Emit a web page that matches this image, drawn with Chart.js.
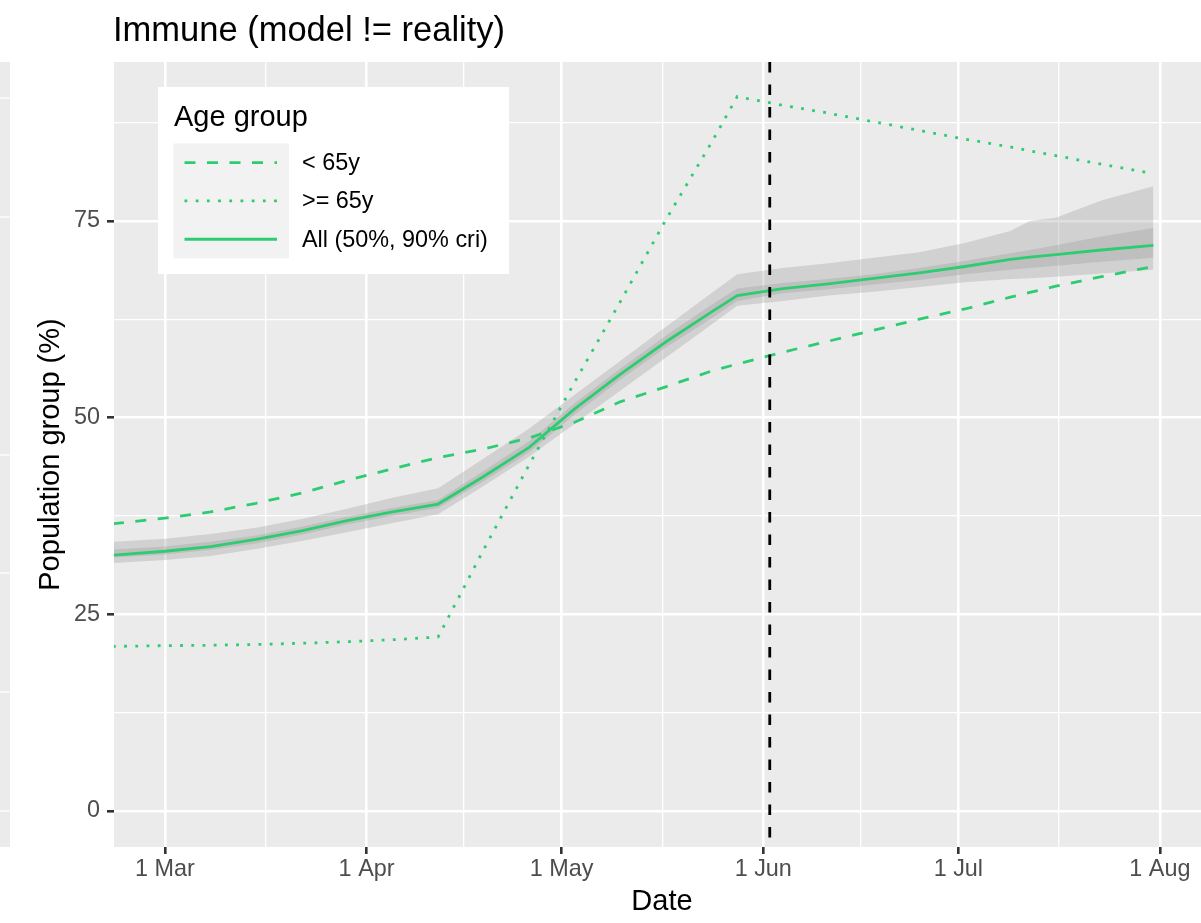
<!DOCTYPE html>
<html>
<head>
<meta charset="utf-8">
<title>Immune (model != reality)</title>
<script src="https://cdn.jsdelivr.net/npm/chart.js@4.4.1/dist/chart.umd.min.js"></script>
<style>
  html, body { margin: 0; padding: 0; background: #ffffff; overflow: hidden; }
  #wrap { width: 1201px; height: 923px; overflow: hidden; }
</style>
</head>
<body>
<div id="wrap"><canvas id="immuneChart" width="1212" height="923"></canvas></div>
<script>
// Dates of the model output (x axis)
const dates = ['2020-02-22', '2020-03-01', '2020-03-08', '2020-03-15', '2020-03-22', '2020-03-29',
  '2020-04-05', '2020-04-12', '2020-04-19', '2020-04-26', '2020-05-03', '2020-05-10', '2020-05-17',
  '2020-05-24', '2020-05-28', '2020-06-04', '2020-06-11', '2020-06-18', '2020-06-25', '2020-07-02',
  '2020-07-09', '2020-07-12', '2020-07-16', '2020-07-23', '2020-07-31'];

// Immune share per age group (%)
const under65 = [36.5, 37.2, 38.0, 39.1, 40.4, 42.0, 43.5, 44.9, 46.0, 47.4, 49.4, 52.0, 53.9,
  55.9, 56.8, 58.3, 59.7, 61.1, 62.5, 63.8, 65.3, 65.9, 66.7, 67.9, 69.2];
const over65 = [20.9, 21.0, 21.05, 21.15, 21.3, 21.5, 21.75, 22.1, 33.2, 44.0, 54.5, 64.7, 75.1,
  84.9, 90.8, 89.7, 88.7, 87.6, 86.5, 85.4, 84.4, 83.9, 83.3, 82.2, 81.0];
const allMedian = [32.5, 33.0, 33.6, 34.5, 35.6, 36.9, 38.0, 39.0, 42.5, 46.2, 51.1, 55.5, 59.6,
  63.4, 65.5, 66.4, 67.0, 67.7, 68.4, 69.2, 70.1, 70.4, 70.7, 71.3, 71.9];

// credible intervals for "All"
const all90lo = [31.5, 31.9, 32.4, 33.3, 34.3, 35.4, 36.6, 37.7, 41.3, 45.0, 49.2, 53.4, 57.6,
  61.8, 64.2, 64.8, 65.5, 66.0, 66.6, 67.2, 67.6, 67.7, 67.9, 68.3, 68.8];
const all90hi = [34.2, 34.6, 35.2, 36.0, 37.1, 38.4, 39.8, 41.0, 44.8, 48.6, 52.9, 57.2, 61.5,
  65.8, 68.2, 69.0, 69.6, 70.3, 71.0, 72.2, 73.7, 75.0, 75.4, 77.6, 79.4];
const all50lo = [32.2, 32.6, 33.2, 34.0, 35.1, 36.4, 37.5, 38.5, 41.9, 45.6, 50.4, 54.8, 58.9,
  62.6, 64.8, 65.8, 66.3, 66.9, 67.5, 68.2, 68.8, 69.0, 69.3, 69.8, 70.3];
const all50hi = [33.2, 33.6, 34.2, 35.0, 36.1, 37.4, 38.5, 39.5, 43.2, 47.0, 51.8, 56.2, 60.4,
  64.3, 66.4, 67.1, 67.6, 68.2, 69.0, 69.9, 70.9, 71.3, 71.9, 73.0, 74.1];

// Axis ticks
const tickDates = ['2020-03-01', '2020-04-01', '2020-05-01', '2020-06-01', '2020-07-01', '2020-08-01'];
const tickLabels = ['1 Mar', '1 Apr', '1 May', '1 Jun', '1 Jul', '1 Aug'];
const yTickValues = [0, 25, 50, 75];
const cutoffDate = '2020-06-02';

const GREEN = '#2ecc71';
const FONT = '"Liberation Sans", Arial, Helvetica, sans-serif';

// days since 1 Mar 2020
const origin = Date.UTC(2020, 2, 1);
function dayOf(s) {
  const p = s.split('-').map(Number);
  return (Date.UTC(p[0], p[1] - 1, p[2]) - origin) / 86400000;
}
const xs = dates.map(dayOf);
const tickDays = tickDates.map(dayOf);
const points = arr => arr.map((v, i) => ({ x: xs[i], y: v }));

const X_MIN = -7.84, X_MAX = 160.7;
const Y_MIN = -4.6, Y_MAX = 95.2;

// major ticks plus ggplot-like minor breaks half way between them
function withMinor(majors, min, max) {
  const out = majors.map(v => ({ value: v, isMinor: false }));
  const step0 = majors[1] - majors[0];
  const stepN = majors[majors.length - 1] - majors[majors.length - 2];
  const mids = [majors[0] - step0 / 2, majors[majors.length - 1] + stepN / 2];
  for (let i = 0; i < majors.length - 1; i++) mids.push((majors[i] + majors[i + 1]) / 2);
  mids.forEach(v => out.push({ value: v, isMinor: true }));
  return out.filter(t => t.value >= min && t.value <= max).sort((a, b) => a.value - b.value);
}

const band = (data, fill, color, order) => ({
  data: points(data), fill: fill, backgroundColor: color, borderColor: 'rgba(0,0,0,0)',
  borderWidth: 0, pointRadius: 0, order: order, inLegend: false
});

// background of the panel + a sliver of the neighbouring panel on the left
const panelBg = {
  id: 'panelBg',
  beforeDraw(chart) {
    const { ctx, chartArea: a } = chart;
    ctx.save();
    ctx.fillStyle = '#ebebeb';
    ctx.fillRect(a.left, a.top, a.right - a.left, a.bottom - a.top);
    ctx.fillRect(0, a.top, 10, a.bottom - a.top);
    ctx.strokeStyle = '#ffffff';
    ctx.lineWidth = 1.3;
    [98, 217, 455, 573, 692, 811].forEach(y => {
      ctx.beginPath(); ctx.moveTo(0, y); ctx.lineTo(10, y); ctx.stroke();
    });
    ctx.restore();
  }
};

// dashed vertical line at the data cutoff
const cutoffLine = {
  id: 'cutoffLine',
  afterDatasetsDraw(chart) {
    const { ctx, chartArea: a, scales } = chart;
    const x = scales.x.getPixelForValue(dayOf(cutoffDate));
    ctx.save();
    ctx.strokeStyle = '#000000';
    ctx.lineWidth = 2.8;
    ctx.setLineDash([10.5, 12]);
    ctx.beginPath();
    ctx.moveTo(x, a.top);
    ctx.lineTo(x, a.bottom);
    ctx.stroke();
    ctx.restore();
  }
};

// plot title and ggplot-style legend inside the panel
const titleAndLegend = {
  id: 'titleAndLegend',
  afterDraw(chart) {
    const { ctx } = chart;
    ctx.save();
    ctx.fillStyle = '#000000';
    ctx.textBaseline = 'alphabetic';
    ctx.font = '34.5px ' + FONT;
    ctx.fillText('Immune (model != reality)', 113, 41);

    const items = chart.data.datasets.filter(d => d.inLegend !== false);
    const boxX = 158, boxY = 87, keyX = 173.5, keyY = 143.5, keyW = 115.5, rowH = 38.3;
    ctx.fillStyle = '#ffffff';
    ctx.fillRect(boxX, boxY, 351, 187);
    ctx.fillStyle = '#000000';
    ctx.font = '29px ' + FONT;
    ctx.fillText('Age group', 174, 126);
    ctx.fillStyle = '#f2f2f2';
    ctx.fillRect(keyX, keyY, keyW, rowH * items.length);
    items.forEach((d, i) => {
      const cy = keyY + rowH * i + rowH / 2;
      ctx.strokeStyle = d.borderColor;
      ctx.lineWidth = d.borderWidth;
      ctx.setLineDash(d.borderDash || []);
      ctx.beginPath();
      ctx.moveTo(keyX + 11, cy);
      ctx.lineTo(keyX + keyW - 12, cy);
      ctx.stroke();
      ctx.setLineDash([]);
      ctx.fillStyle = '#000000';
      ctx.font = '23.4px ' + FONT;
      ctx.textBaseline = 'middle';
      ctx.fillText(d.label, 302, cy + 1);
    });
    ctx.restore();
  }
};

const config = {
  type: 'line',
  data: {
    datasets: [
      band(all90lo, false, 'rgba(0,0,0,0)', 3),
      band(all90hi, '-1', 'rgba(150,150,150,0.3)', 3),
      band(all50lo, false, 'rgba(0,0,0,0)', 2),
      band(all50hi, '-1', 'rgba(150,150,150,0.3)', 2),
      {
        label: '< 65y', data: points(under65), borderColor: GREEN, borderWidth: 2.8,
        borderDash: [11, 11.5], pointRadius: 0, fill: false, order: 1
      },
      {
        label: '>= 65y', data: points(over65), borderColor: GREEN, borderWidth: 2.8,
        borderDash: [2.8, 8.4], pointRadius: 0, fill: false, order: 1
      },
      {
        label: 'All (50%, 90% cri)', data: points(allMedian), borderColor: GREEN, borderWidth: 2.8,
        pointRadius: 0, fill: false, order: 1
      }
    ]
  },
  options: {
    responsive: false,
    animation: false,
    devicePixelRatio: 1,
    layout: { padding: { top: 62, left: 0, right: 2, bottom: 0 } },
    elements: { line: { tension: 0 } },
    plugins: { legend: { display: false }, title: { display: false }, tooltip: { enabled: false } },
    scales: {
      x: {
        type: 'linear',
        min: X_MIN,
        max: X_MAX,
        afterBuildTicks: s => { s.ticks = withMinor(tickDays, X_MIN, X_MAX); },
        afterFit: s => { s.height = 76; },
        border: { display: false },
        grid: {
          color: '#ffffff',
          lineWidth: c => (c.tick && c.tick.isMinor ? 1.3 : 2.6),
          tickColor: c => (c.tick && c.tick.isMinor ? 'rgba(0,0,0,0)' : '#333333'),
          tickLength: 7,
          tickWidth: 2.6
        },
        ticks: {
          autoSkip: false,
          maxRotation: 0,
          padding: 1.5,
          color: '#4d4d4d',
          font: { family: FONT, size: 23.4 },
          callback: (v, i, ticks) => (ticks[i].isMinor ? '' : tickLabels[tickDays.indexOf(v)])
        },
        title: {
          display: true, text: 'Date', color: '#000000',
          font: { family: FONT, size: 29 }, padding: { top: 0, bottom: 4 }
        }
      },
      y: {
        type: 'linear',
        min: Y_MIN,
        max: Y_MAX,
        afterBuildTicks: s => { s.ticks = withMinor(yTickValues, Y_MIN, Y_MAX); },
        afterFit: s => { s.width = 114; },
        border: { display: false },
        grid: {
          color: '#ffffff',
          lineWidth: c => (c.tick && c.tick.isMinor ? 1.3 : 2.6),
          tickColor: c => (c.tick && c.tick.isMinor ? 'rgba(0,0,0,0)' : '#333333'),
          tickLength: 7,
          tickWidth: 2.6
        },
        ticks: {
          autoSkip: false,
          padding: 7,
          color: '#4d4d4d',
          font: { family: FONT, size: 23.4 },
          callback: (v, i, ticks) => (ticks[i].isMinor ? '' : String(v))
        },
        title: {
          display: true, text: 'Population group (%)', color: '#000000',
          font: { family: FONT, size: 29 }, padding: { top: 34, bottom: 0 }
        }
      }
    }
  },
  plugins: [panelBg, cutoffLine, titleAndLegend]
};

const ctx = document.getElementById('immuneChart').getContext('2d');
new Chart(ctx, config);
</script>
</body>
</html>
